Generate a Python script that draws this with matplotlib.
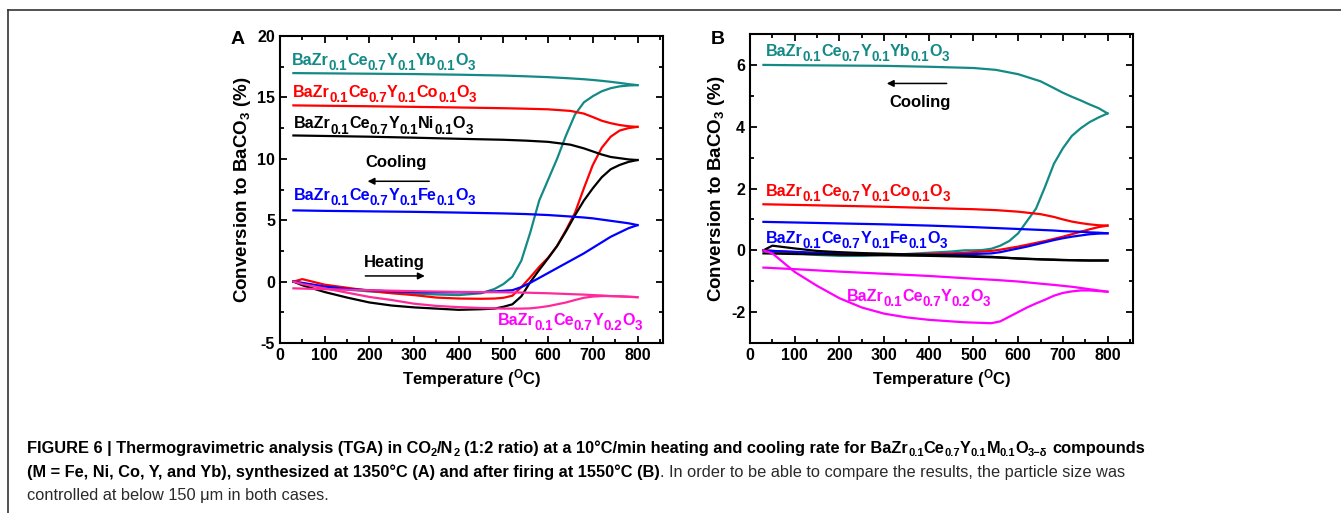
import re
import matplotlib
matplotlib.use("Agg")
import matplotlib.pyplot as plt
from matplotlib.lines import Line2D

plt.rcParams['font.family'] = ['Liberation Sans', 'DejaVu Sans']
plt.rcParams['font.weight'] = 'bold'
plt.rcParams['axes.labelweight'] = 'bold'
plt.rcParams['axes.unicode_minus'] = False
plt.rcParams['mathtext.fontset'] = 'custom'
plt.rcParams['mathtext.rm'] = 'Liberation Sans:bold'
plt.rcParams['mathtext.it'] = 'Liberation Sans:bold'
plt.rcParams['mathtext.bf'] = 'Liberation Sans:bold'

# temperature grids (degC) used for heating and cooling branches
t_heat = [30, 50, 100, 150, 200, 250, 300, 350, 400, 450, 480, 500, 520, 540,
          560, 580, 600, 620, 640, 660, 680, 700, 720, 740, 760, 780, 800]
t_cool = [800, 780, 760, 740, 720, 700, 680, 650, 600, 550, 500, 400, 300, 200, 100, 30]

# panel A: synthesized at 1350 C
a_yb_heat = [0, -0.15, -0.45, -0.65, -0.8, -0.9, -0.98, -1.05, -1.1, -0.95, -0.6, -0.2, 0.4, 1.7,
             4.0, 6.6, 8.3, 10.0, 11.9, 13.6, 14.6, 15.1, 15.5, 15.75, 15.9, 15.97, 16.0]
a_yb_cool = [16.0, 16.08, 16.18, 16.27, 16.35, 16.42, 16.48, 16.55, 16.65, 16.72, 16.78, 16.85, 16.9, 16.93, 16.96, 16.98]
a_co_heat = [0, 0.2, -0.25, -0.5, -0.75, -0.95, -1.1, -1.3, -1.38, -1.4, -1.38, -1.32, -1.15, -0.45,
             0.35, 1.2, 1.95, 2.9, 4.2, 5.6, 7.6, 9.5, 10.9, 11.8, 12.3, 12.5, 12.6]
a_co_cool = [12.6, 12.65, 12.75, 12.9, 13.1, 13.4, 13.68, 13.9, 14.03, 14.08, 14.12, 14.18, 14.23, 14.28, 14.32, 14.35]
a_ni_heat = [0, -0.3, -0.85, -1.3, -1.7, -1.95, -2.1, -2.2, -2.3, -2.25, -2.2, -2.05, -1.85, -1.2,
             -0.05, 0.95, 1.9, 2.9, 4.1, 5.4, 6.6, 7.6, 8.5, 9.15, 9.5, 9.75, 9.9]
a_ni_cool = [9.9, 9.95, 10.05, 10.15, 10.35, 10.6, 10.85, 11.15, 11.38, 11.48, 11.55, 11.63, 11.72, 11.8, 11.86, 11.9]
a_fe_heat = [0, -0.1, -0.4, -0.6, -0.7, -0.8, -0.85, -0.87, -0.88, -0.87, -0.8, -0.75, -0.7, -0.45,
             -0.1, 0.3, 0.7, 1.1, 1.5, 1.9, 2.3, 2.75, 3.2, 3.65, 4.0, 4.35, 4.6]
a_fe_cool = [4.6, 4.75, 4.85, 4.95, 5.05, 5.15, 5.22, 5.3, 5.42, 5.5, 5.55, 5.62, 5.68, 5.72, 5.76, 5.8]
a_y_heat = [0, -0.2, -0.55, -0.9, -1.25, -1.5, -1.8, -1.98, -2.08, -2.15, -2.18, -2.2, -2.2, -2.2,
            -2.18, -2.1, -2.0, -1.85, -1.7, -1.5, -1.32, -1.22, -1.18, -1.18, -1.2, -1.23, -1.27]
a_y_cool = [-1.27, -1.24, -1.2, -1.18, -1.13, -1.1, -1.06, -1.02, -0.95, -0.9, -0.87, -0.84, -0.78, -0.7, -0.62, -0.55]

# panel B: after firing at 1550 C
b_yb_heat = [0, -0.05, -0.1, -0.15, -0.18, -0.18, -0.15, -0.12, -0.08, -0.04, 0.0, 0.0, 0.01, 0.05,
             0.15, 0.3, 0.55, 0.95, 1.35, 2.05, 2.8, 3.3, 3.7, 3.95, 4.15, 4.3, 4.43]
b_yb_cool = [4.43, 4.6, 4.72, 4.85, 4.97, 5.1, 5.25, 5.47, 5.7, 5.84, 5.9, 5.94, 5.97, 5.98, 5.99, 6.0]
b_co_heat = [0, -0.02, -0.06, -0.1, -0.13, -0.15, -0.15, -0.14, -0.12, -0.1, -0.08, -0.06, -0.04, -0.02,
             0.02, 0.07, 0.12, 0.18, 0.24, 0.3, 0.37, 0.44, 0.52, 0.6, 0.68, 0.75, 0.8]
b_co_cool = [0.8, 0.81, 0.84, 0.88, 0.93, 1.0, 1.08, 1.17, 1.25, 1.3, 1.33, 1.37, 1.41, 1.44, 1.47, 1.49]
b_ni_heat = [0, 0.15, 0.06, -0.02, -0.06, -0.09, -0.11, -0.13, -0.15, -0.17, -0.18, -0.19, -0.2, -0.21,
             -0.23, -0.25, -0.27, -0.28, -0.29, -0.3, -0.31, -0.32, -0.32, -0.33, -0.33, -0.33, -0.33]
b_ni_cool = [-0.33, -0.33, -0.33, -0.32, -0.32, -0.31, -0.3, -0.29, -0.26, -0.23, -0.21, -0.18, -0.16, -0.14, -0.12, -0.1]
b_fe_heat = [0, -0.02, -0.05, -0.08, -0.1, -0.12, -0.14, -0.15, -0.15, -0.14, -0.13, -0.12, -0.11, -0.1,
             -0.06, 0.0, 0.06, 0.12, 0.19, 0.26, 0.33, 0.39, 0.44, 0.48, 0.52, 0.54, 0.55]
b_fe_cool = [0.55, 0.57, 0.58, 0.6, 0.61, 0.62, 0.64, 0.66, 0.69, 0.72, 0.75, 0.8, 0.84, 0.87, 0.9, 0.92]
b_y_heat = [0, -0.1, -0.7, -1.15, -1.55, -1.85, -2.05, -2.17, -2.25, -2.3, -2.33, -2.34, -2.35, -2.36,
            -2.3, -2.15, -2.0, -1.85, -1.72, -1.6, -1.47, -1.38, -1.33, -1.3, -1.3, -1.32, -1.34]
b_y_cool = [-1.34, -1.3, -1.26, -1.22, -1.18, -1.15, -1.12, -1.08, -1.01, -0.96, -0.92, -0.83, -0.76, -0.69, -0.61, -0.56]

# curve labels, "_" marks a subscript
formula_yb = 'BaZr_0.1Ce_0.7Y_0.1Yb_0.1O_3'
formula_co = 'BaZr_0.1Ce_0.7Y_0.1Co_0.1O_3'
formula_ni = 'BaZr_0.1Ce_0.7Y_0.1Ni_0.1O_3'
formula_fe = 'BaZr_0.1Ce_0.7Y_0.1Fe_0.1O_3'
formula_y = 'BaZr_0.1Ce_0.7Y_0.2O_3'

TEAL = '#138a86'
PINK_A = '#ff2a9a'
MAG = '#ff00ff'

W, H = 1341, 513
fig = plt.figure(figsize=(W / 100, H / 100), dpi=100)
axA = fig.add_axes([0.2088, 0.3314, 0.2856, 0.5984])
axB = fig.add_axes([0.5593, 0.3314, 0.2856, 0.6023])
renderer = fig.canvas.get_renderer()


def text_width(s, size, bold, family):
    t = fig.text(0, 0, s, fontsize=size, fontweight='bold' if bold else 'normal', family=family)
    w = t.get_window_extent(renderer).width
    t.remove()
    return w


def draw_runs(x, y, runs, size, family, sub_scale, sub_drop, color=None):
    # x, y in figure pixels from the bottom-left; runs are (text, bold, sub)
    for s, bold, sub in runs:
        fs = size * sub_scale if sub else size
        space = text_width('a a', fs, bold, family) - text_width('aa', fs, bold, family)
        lead = len(s) - len(s.lstrip(' '))
        trail = len(s) - len(s.rstrip(' '))
        core = s.strip(' ')
        x += lead * space
        c = color if color else ('black' if bold else '#2a2a2a')
        fig.text(x / W, (y - (sub_drop if sub else 0)) / H, core, fontsize=fs,
                 fontweight='bold' if bold else 'normal', family=family,
                 color=c, va='baseline', ha='left')
        x += text_width(core, fs, bold, family) + trail * space
    return x


def chem_label(ax, x, y, formula, color):
    runs = []
    for part in re.findall(r'_[0-9.]+|[^_]+', formula):
        if part.startswith('_'):
            runs.append((part[1:], True, True))
        else:
            runs.append((part, True, False))
    px, py = ax.transData.transform((x, y))
    draw_runs(px, py, runs, 11.6, ['Liberation Sans'], 0.84, 5.2, color)


def style_axis(ax):
    for s in ax.spines.values():
        s.set_linewidth(1.5)
    ax.tick_params(which='both', direction='in', top=True, right=True, labelsize=11.5, width=1.3)
    ax.tick_params(which='major', length=5)
    ax.tick_params(which='minor', length=3)
    ax.set_xlim(0, 857)
    ax.set_xticks(range(0, 801, 100))
    ax.set_xticks(range(50, 851, 100), minor=True)
    ax.set_xlabel(r'Temperature ($^{\mathrm{O}}$C)', fontsize=12, labelpad=3)
    ax.set_ylabel(r'Conversion to BaCO$_3$ (%)', fontsize=13.5, labelpad=3)


def draw_pair(ax, heat, cool, color):
    ax.plot(t_heat, heat, color=color, lw=1.6)
    ax.plot(t_cool, cool, color=color, lw=1.6)


# panel A
draw_pair(axA, a_yb_heat, a_yb_cool, TEAL)
draw_pair(axA, a_co_heat, a_co_cool, 'red')
draw_pair(axA, a_ni_heat, a_ni_cool, 'black')
draw_pair(axA, a_fe_heat, a_fe_cool, 'blue')
draw_pair(axA, a_y_heat, a_y_cool, PINK_A)
style_axis(axA)
axA.set_ylim(-5, 20)
axA.set_yticks([-5, 0, 5, 10, 15, 20])
axA.set_yticks([-2.5, 2.5, 7.5, 12.5, 17.5], minor=True)

chem_label(axA, 27, 17.64, formula_yb, TEAL)
chem_label(axA, 28, 15.06, formula_co, 'red')
chem_label(axA, 31, 12.48, formula_ni, 'black')
chem_label(axA, 31, 6.64, formula_fe, 'blue')
chem_label(axA, 488, -3.53, formula_y, MAG)
axA.text(191, 9.36, 'Cooling', fontsize=12, va='baseline', ha='left')
axA.text(188, 1.21, 'Heating', fontsize=12, va='baseline', ha='left')
arrow = dict(arrowstyle='-|>', color='black', lw=1.1, mutation_scale=10, shrinkA=0, shrinkB=0)
axA.annotate('', xy=(196, 8.17), xytext=(334, 8.17), arrowprops=arrow)
axA.annotate('', xy=(324, 0.46), xytext=(191, 0.46), arrowprops=arrow)

# panel B
draw_pair(axB, b_yb_heat, b_yb_cool, TEAL)
draw_pair(axB, b_co_heat, b_co_cool, 'red')
draw_pair(axB, b_fe_heat, b_fe_cool, 'blue')
draw_pair(axB, b_ni_heat, b_ni_cool, 'black')
draw_pair(axB, b_y_heat, b_y_cool, MAG)
style_axis(axB)
axB.set_ylim(-3, 7)
axB.set_yticks([-2, 0, 2, 4, 6])
axB.set_yticks([-3, -1, 1, 3, 5, 7], minor=True)

chem_label(axB, 36, 6.3, formula_yb, TEAL)
chem_label(axB, 35, 1.76, formula_co, 'red')
chem_label(axB, 35, 0.23, formula_fe, 'blue')
chem_label(axB, 216, -1.64, formula_y, MAG)
axB.text(311, 4.65, 'Cooling', fontsize=12, va='baseline', ha='left')
axB.annotate('', xy=(306, 5.4), xytext=(440, 5.4), arrowprops=arrow)

fig.text(238 / W, 1 - 40 / H, 'A', fontsize=14, ha='center', va='center')
fig.text(718 / W, 1 - 40 / H, 'B', fontsize=14, ha='center', va='center')

# open frame round the figure
fig.add_artist(Line2D([8 / W, 1], [1 - 10 / H, 1 - 10 / H], transform=fig.transFigure, color='#333333', lw=1.2))
fig.add_artist(Line2D([8 / W, 8 / W], [0, 1 - 10 / H], transform=fig.transFigure, color='#333333', lw=1.2))

# caption, drawn run by run so bold/regular and subscripts line up
cap_family = ['Liberation Sans Narrow', 'Liberation Sans', 'DejaVu Sans']
line1 = [('FIGURE 6 | Thermogravimetric analysis (TGA) in CO', True, False), ('2', True, True),
         ('/N', True, False), ('2', True, True),
         (' (1:2 ratio) at a 10°C/min heating and cooling rate for BaZr', True, False),
         ('0.1', True, True), ('Ce', True, False), ('0.7', True, True), ('Y', True, False),
         ('0.1', True, True), ('M', True, False), ('0.1', True, True), ('O', True, False),
         ('3−δ', True, True), (' compounds', True, False)]
line2 = [('(M = Fe, Ni, Co, Y, and Yb), synthesized at 1350°C (A) and after firing at 1550°C (B)', True, False),
         ('. In order to be able to compare the results, the particle size was', False, False)]
line3 = [('controlled at below 150 μm in both cases.', False, False)]

# fit the first caption line to the width it has in the figure (27 .. 1147 px)
probe = draw_runs(0, -100, line1, 10.0, cap_family, 0.68, 3)
for t in fig.texts[-len(line1):]:
    t.remove()
cap_size = 10.0 * 1120 / probe

draw_runs(27, H - 453, line1, cap_size, cap_family, 0.68, 3)
draw_runs(27, H - 477, line2, cap_size, cap_family, 0.68, 3)
draw_runs(27, H - 500, line3, cap_size, cap_family, 0.68, 3)

fig.savefig('out.png', dpi=100)
